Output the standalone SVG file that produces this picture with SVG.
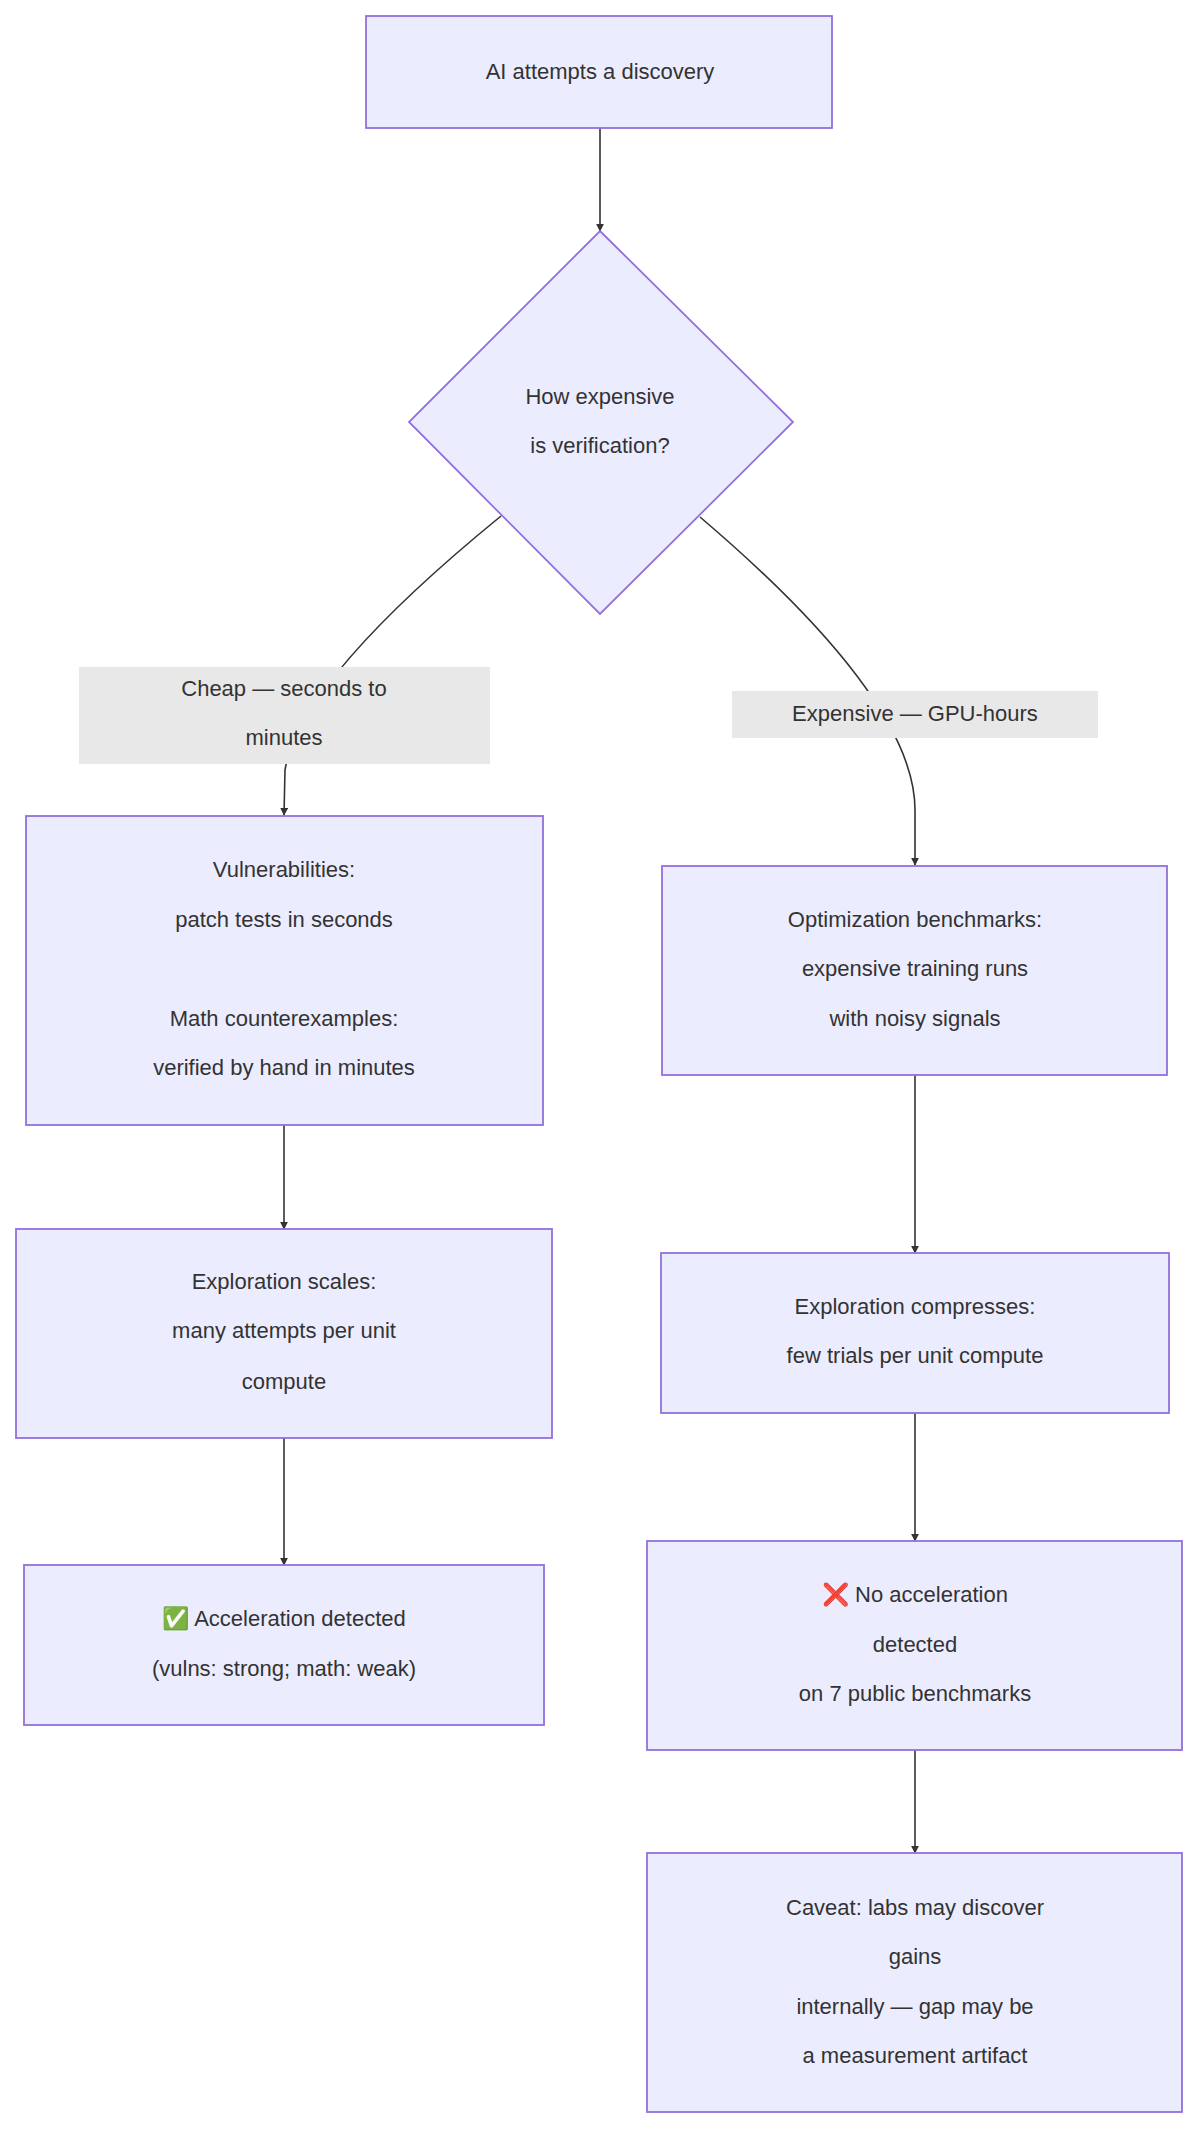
<svg xmlns="http://www.w3.org/2000/svg" width="1200" height="2132" viewBox="0 0 1200 2132">
<style>
.n{fill:#ECECFF;stroke:#9370DB;stroke-width:1.8}
.t{font-family:"Liberation Sans",Arial,sans-serif;font-size:22px;fill:#333;text-anchor:middle;dominant-baseline:central}
.e{fill:none;stroke:#333;stroke-width:1.6;marker-end:url(#a)}
.lb{fill:#e8e8e8}
</style>
<defs><marker id="a" viewBox="0 0 10 10" refX="9" refY="5" markerWidth="8" markerHeight="8" orient="auto" markerUnits="userSpaceOnUse" ><path d="M0,0L10,5L0,10z" fill="#333"/></marker></defs>
<rect width="1200" height="2132" fill="#fff"/>
<g id="edges">
<path class="e" d="M600,128V231"/>
<path class="e" d="M501,516 Q300,680 285,770 L284,815"/>
<path class="e" d="M700,517 Q915,700 915,810 L915,865"/>
<path class="e" d="M284,1125V1229"/>
<path class="e" d="M284,1438V1565"/>
<path class="e" d="M915,1075V1253"/>
<path class="e" d="M915,1413V1541"/>
<path class="e" d="M915,1750V1853"/>
</g>
<g id="l1"><rect class="lb" x="79" y="667" width="411" height="97"/><text class="t" x="284" y="688">Cheap — seconds to</text><text class="t" x="284" y="737">minutes</text></g>
<g id="l2"><rect class="lb" x="732" y="691" width="366" height="47"/><text class="t" x="915" y="713">Expensive — GPU-hours</text></g>
<g id="start"><rect class="n" x="366" y="16" width="466" height="112"/><text class="t" x="600" y="71">AI attempts a discovery</text></g>
<g id="dec"><path class="n" d="M600,231L793,422L600,614L409,422z"/><text class="t" x="600" y="396">How expensive</text><text class="t" x="600" y="445">is verification?</text></g>
<g id="vuln"><rect class="n" x="26" y="816" width="517" height="309"/><text class="t" x="284" y="869">Vulnerabilities:</text><text class="t" x="284" y="919">patch tests in seconds</text><text class="t" x="284" y="1018">Math counterexamples:</text><text class="t" x="284" y="1067">verified by hand in minutes</text></g>
<g id="opt"><rect class="n" x="662" y="866" width="505" height="209"/><text class="t" x="915" y="919">Optimization benchmarks:</text><text class="t" x="915" y="968">expensive training runs</text><text class="t" x="915" y="1018">with noisy signals</text></g>
<g id="es"><rect class="n" x="16" y="1229" width="536" height="209"/><text class="t" x="284" y="1281">Exploration scales:</text><text class="t" x="284" y="1330">many attempts per unit</text><text class="t" x="284" y="1381">compute</text></g>
<g id="ec"><rect class="n" x="661" y="1253" width="508" height="160"/><text class="t" x="915" y="1306">Exploration compresses:</text><text class="t" x="915" y="1355">few trials per unit compute</text></g>
<g id="acc"><rect class="n" x="24" y="1565" width="520" height="160"/><text class="t" x="284" y="1618">✅ Acceleration detected</text><text class="t" x="284" y="1668">(vulns: strong; math: weak)</text></g>
<g id="noacc"><rect class="n" x="647" y="1541" width="535" height="209"/><text class="t" x="915" y="1594">❌ No acceleration</text><text class="t" x="915" y="1644">detected</text><text class="t" x="915" y="1693">on 7 public benchmarks</text></g>
<g id="cav"><rect class="n" x="647" y="1853" width="535" height="259"/><text class="t" x="915" y="1907">Caveat: labs may discover</text><text class="t" x="915" y="1956">gains</text><text class="t" x="915" y="2006">internally — gap may be</text><text class="t" x="915" y="2055">a measurement artifact</text></g>
</svg>
